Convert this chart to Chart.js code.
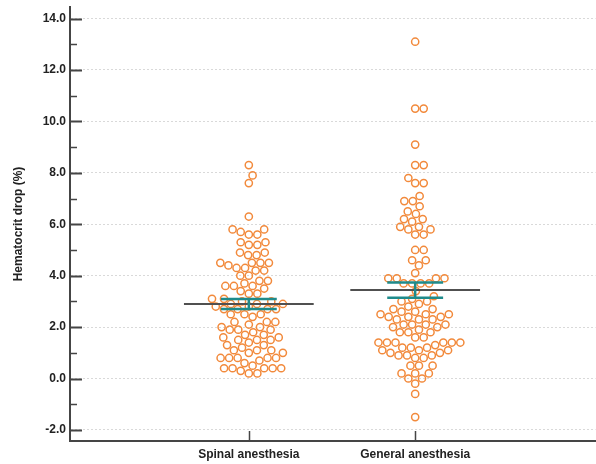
<!DOCTYPE html>
<html>
<head>
<meta charset="utf-8">
<script src="https://cdn.jsdelivr.net/npm/chart.js@4/dist/chart.umd.min.js"></script>
<style>
  html, body { margin: 0; padding: 0; background: #fff; overflow: hidden; }
  /* a little wider than the window: Chart.js keeps ~5px free on the right */
  #wrap { width: 601px; height: 464px; position: relative; }
</style>
</head>
<body>
<div id="wrap"><canvas id="chart"></canvas></div>
<script>
// ---- data ----
const categories = ["Spinal anesthesia", "General anesthesia"];

const spinal = [
  8.3, 7.9, 7.6, 6.3,
  5.8, 5.8, 5.7, 5.6, 5.6,
  5.3, 5.3, 5.2, 5.2,
  4.9, 4.9, 4.8, 4.8,
  4.5, 4.5, 4.5, 4.5, 4.4,
  4.3, 4.3, 4.2, 4.2,
  4.0, 4.0,
  3.8, 3.8, 3.7,
  3.6, 3.6, 3.6,
  3.5, 3.4,
  3.3, 3.3,
  3.1, 3.1,
  3.0, 3.0, 2.9, 2.9, 2.9,
  2.8, 2.8, 2.7, 2.7, 2.7, 2.7,
  2.5, 2.5, 2.5,
  2.4,
  2.2, 2.2, 2.2, 2.1,
  2.0, 2.0,
  1.9, 1.9, 1.9, 1.8,
  1.7, 1.7,
  1.6, 1.6, 1.5, 1.5, 1.5,
  1.4,
  1.3, 1.3, 1.2,
  1.1, 1.1, 1.1, 1.0, 1.0,
  0.8, 0.8, 0.8, 0.8, 0.8, 0.7,
  0.6,
  0.5, 0.4, 0.4, 0.4, 0.4, 0.4,
  0.3,
  0.2, 0.2
];

const general = [
  13.1, 10.5, 10.5, 9.1, 8.3, 8.3, 7.8, 7.6, 7.6, 7.1,
  6.9, 6.9, 6.7, 6.5, 6.4, 6.2, 6.2, 6.1, 5.9, 5.9, 5.8, 5.8, 5.6, 5.6,
  5.0, 5.0, 4.6, 4.6, 4.4, 4.1,
  3.9, 3.9, 3.9, 3.9, 3.7, 3.7, 3.7, 3.7,
  3.4, 3.2, 3.1, 3.0, 3.0, 2.9, 2.8, 2.7, 2.7, 2.6, 2.6,
  2.5, 2.5, 2.5, 2.4, 2.4, 2.4, 2.3, 2.3, 2.3,
  2.1, 2.1, 2.1, 2.1, 2.0, 2.0,
  1.9, 1.8, 1.8, 1.8,
  1.6, 1.6,
  1.4, 1.4, 1.4, 1.4, 1.4, 1.4, 1.3,
  1.2, 1.2, 1.2, 1.1, 1.1, 1.1,
  1.0, 1.0, 0.9, 0.9, 0.9,
  0.8, 0.8,
  0.5, 0.5, 0.5,
  0.2, 0.2, 0.2,
  0.0, 0.0, -0.2, -0.6, -1.5
];

const means = [2.90, 3.44];
const ciLow = [2.70, 3.14];
const ciHigh = [3.09, 3.73];

const yTicks = [-2, 0, 2, 4, 6, 8, 10, 12, 14];
const yMinorTicks = [-1, 1, 3, 5, 7, 9, 11, 13];
const xTicks = [1, 2];

// ---- styles ----
const ORANGE = "#f28a3c";
const TEAL = "#1f8b8b";
const MEAN_GREY = "#505050";
const AXIS = "#454545";
const TEXT = "#222";
const DOT_DIAM = 8.6;      // px, spacing used by the swarm layout
const MEAN_HALF = 0.39;    // category units
const CAP_HALF = 0.168;

// mean line: one segment per group
const meanLine = [];
means.forEach((m, i) => {
  meanLine.push({ x: i + 1 - MEAN_HALF, y: m }, { x: i + 1 + MEAN_HALF, y: m }, { x: null, y: null });
});

// error bar: top cap, stem, bottom cap
const errLine = [];
means.forEach((m, i) => {
  const c = i + 1;
  errLine.push(
    { x: c - CAP_HALF, y: ciHigh[i] }, { x: c + CAP_HALF, y: ciHigh[i] }, { x: null, y: null },
    { x: c, y: ciHigh[i] }, { x: c, y: ciLow[i] }, { x: null, y: null },
    { x: c - CAP_HALF, y: ciLow[i] }, { x: c + CAP_HALF, y: ciLow[i] }, { x: null, y: null }
  );
});

// inside tick marks (the library draws ticks outside only)
const insideTicks = {
  id: "insideTicks",
  afterDatasetsDraw(chart) {
    const { ctx, chartArea: a, scales: { x, y } } = chart;
    ctx.save();
    ctx.strokeStyle = AXIS;
    ctx.lineWidth = 2;
    ctx.beginPath();
    yTicks.forEach(v => {
      const py = Math.round(y.getPixelForValue(v)) + 0.5;
      ctx.moveTo(a.left, py); ctx.lineTo(a.left + 12, py);
    });
    ctx.stroke();
    ctx.lineWidth = 1.5;
    ctx.beginPath();
    yMinorTicks.forEach(v => {
      const py = Math.round(y.getPixelForValue(v)) + 0.5;
      ctx.moveTo(a.left, py); ctx.lineTo(a.left + 7, py);
    });
    xTicks.forEach(v => {
      const px = Math.round(x.getPixelForValue(v)) + 0.5;
      ctx.moveTo(px, a.bottom); ctx.lineTo(px, a.bottom - 10);
    });
    ctx.stroke();
    ctx.restore();
  }
};

const chart = new Chart(document.getElementById("chart"), {
  type: "scatter",
  data: {
    datasets: [
      {
        data: meanLine,
        type: "line",
        borderColor: MEAN_GREY,
        borderWidth: 2,
        pointRadius: 0,
        spanGaps: false,
        order: 1
      },
      {
        data: errLine,
        type: "line",
        borderColor: TEAL,
        borderWidth: 2.5,
        pointRadius: 0,
        spanGaps: false,
        order: 0
      },
      {
        label: categories[0],
        data: [],
        pointRadius: 3.6,
        borderWidth: 1.5,
        borderColor: ORANGE,
        backgroundColor: "rgba(255,255,255,0)",
        order: 3
      },
      {
        label: categories[1],
        data: [],
        pointRadius: 3.6,
        borderWidth: 1.5,
        borderColor: ORANGE,
        backgroundColor: "rgba(255,255,255,0)",
        order: 3
      }
    ]
  },
  options: {
    responsive: true,
    maintainAspectRatio: false,
    animation: false,
    layout: { padding: { top: 7, left: 0, right: 0, bottom: 0 } },
    plugins: { legend: { display: false }, tooltip: { enabled: false } },
    scales: {
      x: {
        type: "linear",
        min: -0.075,
        max: 3.084,
        afterBuildTicks: s => { s.ticks = xTicks.map(v => ({ value: v })); },
        afterFit: s => { s.height = 23; s.paddingLeft = 0; s.paddingRight = 0; },
        ticks: {
          callback: v => categories[v - 1],
          font: { family: "Liberation Sans, Arial", size: 12, weight: "bold" },
          color: TEXT,
          padding: 6,
          maxRotation: 0
        },
        grid: { display: false, drawTicks: false },
        border: { display: true, color: AXIS, width: 2 }
      },
      y: {
        min: -2.43,
        max: 14.45,
        afterBuildTicks: s => { s.ticks = yTicks.map(v => ({ value: v })); },
        afterFit: s => { s.width = 70; s.paddingTop = 0; s.paddingBottom = 0; },
        ticks: {
          callback: v => v.toFixed(1),
          font: { family: "Liberation Sans, Arial", size: 12, weight: "bold" },
          color: TEXT,
          padding: 4
        },
        grid: { color: "#d9d9d9", lineWidth: 1, drawTicks: false },
        border: { display: true, color: AXIS, width: 2, dash: [2, 2] },
        title: {
          display: true,
          text: "Hematocrit drop (%)",
          font: { family: "Liberation Sans, Arial", size: 12, weight: "bold" },
          color: TEXT,
          padding: { top: 11, bottom: 0 }
        }
      }
    }
  },
  plugins: [insideTicks]
});

// swarm layout: each value sorted upward, pushed sideways just enough to not overlap
function swarm(values, center) {
  const xs = chart.scales.x, ys = chart.scales.y;
  const cx = xs.getPixelForValue(center);
  const placed = [];
  const out = [];
  [...values].sort((a, b) => a - b).forEach(v => {
    const py = ys.getPixelForValue(v);
    const near = placed.filter(p => Math.abs(p.y - py) < DOT_DIAM);
    const cands = [0];
    near.forEach(p => {
      const dx = Math.sqrt(DOT_DIAM * DOT_DIAM - (p.y - py) ** 2);
      cands.push(p.x + dx, p.x - dx);
    });
    cands.sort((a, b) => (Math.abs(a) - Math.abs(b)) || (b - a));
    const off = cands.find(c => near.every(p => (p.x - c) ** 2 + (p.y - py) ** 2 >= DOT_DIAM * DOT_DIAM - 0.01));
    placed.push({ x: off, y: py });
    out.push({ x: xs.getValueForPixel(cx + off), y: v });
  });
  return out;
}

chart.data.datasets[2].data = swarm(spinal, 1);
chart.data.datasets[3].data = swarm(general, 2);
chart.update("none");
</script>
</body>
</html>
